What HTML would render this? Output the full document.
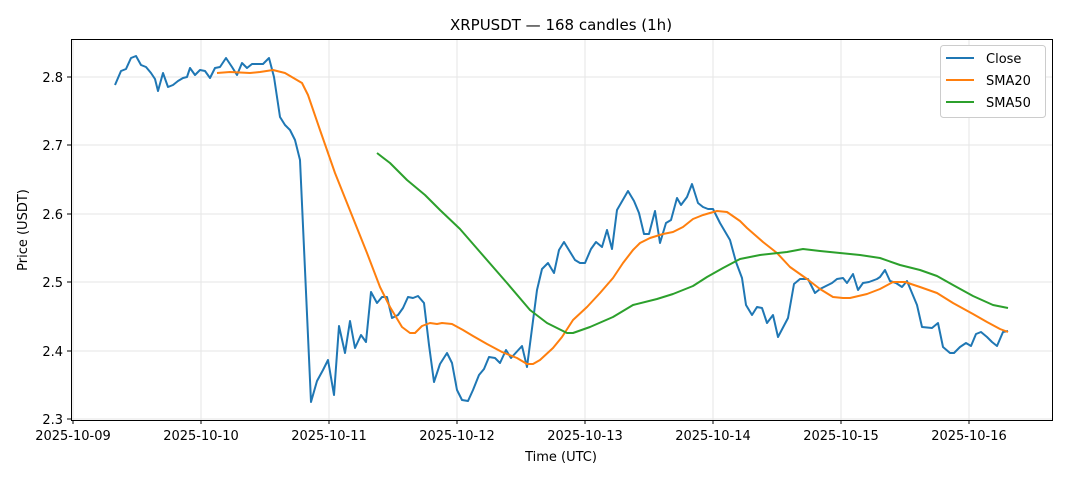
<!DOCTYPE html>
<html><head><meta charset="utf-8"><style>
body{margin:0;background:#fff}
svg text{font-family:"DejaVu Sans","Liberation Sans",sans-serif;fill:#000}
</style></head><body>
<svg width="1068" height="481" xmlns="http://www.w3.org/2000/svg">
<rect width="1068" height="481" fill="#fff"/>
<g stroke="#e5e5e5" stroke-width="1">
<line x1="73" y1="39" x2="73" y2="420"/><line x1="201" y1="39" x2="201" y2="420"/><line x1="329" y1="39" x2="329" y2="420"/><line x1="457" y1="39" x2="457" y2="420"/><line x1="585" y1="39" x2="585" y2="420"/><line x1="713" y1="39" x2="713" y2="420"/><line x1="841" y1="39" x2="841" y2="420"/><line x1="969" y1="39" x2="969" y2="420"/>
<line x1="71" y1="419" x2="1052" y2="419"/><line x1="71" y1="351" x2="1052" y2="351"/><line x1="71" y1="282" x2="1052" y2="282"/><line x1="71" y1="214" x2="1052" y2="214"/><line x1="71" y1="145" x2="1052" y2="145"/><line x1="71" y1="77" x2="1052" y2="77"/>
</g>
<g fill="none" stroke-width="2" stroke-linejoin="round">
<polyline stroke="#1f77b4" points="115,85 121,71 126,69 131,58 136,56 141,65 146,67 151,73 155,79 158,91 163,73 168,87 173,85 178,81 183,78 187,77 190,68 195,75 200,70 205,71 210,78 215,68 220,67 226,58 232,67 237,75 242,63 247,68 252,64 258,64 263,64 269,58 274,77 280,117 285,125 290,130 295,140 300,160 311,402 317,381 323,370 328,360 334,395 339,326 345,353 350,321 355,348 361,335 366,342 371,292 377,303 382,297 387,297 392,318 398,315 403,308 408,297 413,298 418,296 424,303 429,345 434,382 440,364 447,353 452,363 457,390 462,400 468,401 473,390 479,375 484,369 489,357 495,358 500,363 506,350 511,358 522,346 527,367 537,290 542,269 548,263 554,273 559,250 564,242 575,260 580,263 585,263 591,249 596,242 602,247 607,230 612,249 617,210 628,191 634,201 639,213 644,234 649,234 655,211 660,243 666,223 671,220 677,198 681,205 687,197 692,184 698,203 703,207 708,209 713,209 720,223 730,240 736,262 742,278 746,305 752,315 757,307 762,308 767,323 773,315 778,337 788,318 794,284 800,279 808,279 815,293 820,289 826,286 832,283 837,279 843,278 847,283 853,274 858,290 863,283 869,282 877,279 880,277 885,270 890,281 896,283 902,287 907,281 917,305 922,327 932,328 938,323 943,347 950,353 954,353 960,347 966,343 971,346 976,334 981,332 987,337 992,342 997,346 1003,332 1008,331"/>
<polyline stroke="#ff7f0e" points="217,73 230,72 250,73 260,72 273,70 285,73 302,83 308,95 320,130 335,173 347,203 367,253 380,287 390,307 402,327 410,333 415,333 422,326 430,323 437,324 442,323 452,324 463,330 473,336 487,344 502,352 517,358 527,364 533,364 540,360 553,348 562,337 573,320 587,307 600,293 613,278 623,263 633,250 640,243 650,238 663,234 673,232 683,227 693,219 703,215 717,211 727,212 740,221 747,228 763,242 777,253 790,267 807,279 820,289 833,297 843,298 850,298 867,294 880,289 893,282 905,282 920,287 937,293 953,303 973,314 987,322 1000,329 1008,332"/>
<polyline stroke="#2ca02c" points="377,153 390,163 407,180 425,195 440,210 460,229 480,252 507,283 530,310 547,323 567,333 573,333 590,327 613,317 633,305 657,299 673,294 693,286 707,277 723,268 740,259 760,255 787,252 803,249 820,251 840,253 860,255 880,258 900,265 920,270 937,276 953,285 973,296 993,305 1008,308"/>
</g>
<rect x="71.5" y="39.5" width="981" height="381" fill="none" stroke="#000" stroke-width="1"/>
<g stroke="#000"><line x1="73" y1="420" x2="73" y2="424"/><line x1="201" y1="420" x2="201" y2="424"/><line x1="329" y1="420" x2="329" y2="424"/><line x1="457" y1="420" x2="457" y2="424"/><line x1="585" y1="420" x2="585" y2="424"/><line x1="713" y1="420" x2="713" y2="424"/><line x1="841" y1="420" x2="841" y2="424"/><line x1="969" y1="420" x2="969" y2="424"/>
<line x1="67" y1="419" x2="71" y2="419"/><line x1="67" y1="351" x2="71" y2="351"/><line x1="67" y1="282" x2="71" y2="282"/><line x1="67" y1="214" x2="71" y2="214"/><line x1="67" y1="145" x2="71" y2="145"/><line x1="67" y1="77" x2="71" y2="77"/></g>
<g font-size="13" text-anchor="middle">
<text x="73" y="440">2025-10-09</text><text x="201" y="440">2025-10-10</text><text x="329" y="440">2025-10-11</text><text x="457" y="440">2025-10-12</text><text x="585" y="440">2025-10-13</text><text x="713" y="440">2025-10-14</text><text x="841" y="440">2025-10-15</text><text x="969" y="440">2025-10-16</text>
<text x="561" y="461">Time (UTC)</text>
<text x="561" y="30" font-size="15">XRPUSDT — 168 candles (1h)</text>
</g>
<g font-size="13" text-anchor="end">
<text x="63" y="424">2.3</text><text x="63" y="356">2.4</text><text x="63" y="287">2.5</text><text x="63" y="219">2.6</text><text x="63" y="150">2.7</text><text x="63" y="82">2.8</text>
</g>
<text x="27" y="230" font-size="13" text-anchor="middle" transform="rotate(-90 27 230)">Price (USDT)</text>
<rect x="940.5" y="45.5" width="105" height="72" rx="3" fill="#fff" stroke="#ccc"/>
<g stroke-width="2"><line x1="946" y1="58" x2="974" y2="58" stroke="#1f77b4"/><line x1="946" y1="80" x2="974" y2="80" stroke="#ff7f0e"/><line x1="946" y1="102" x2="974" y2="102" stroke="#2ca02c"/></g>
<g font-size="13"><text x="986" y="63">Close</text><text x="986" y="85">SMA20</text><text x="986" y="107">SMA50</text></g>
</svg>
</body></html>
